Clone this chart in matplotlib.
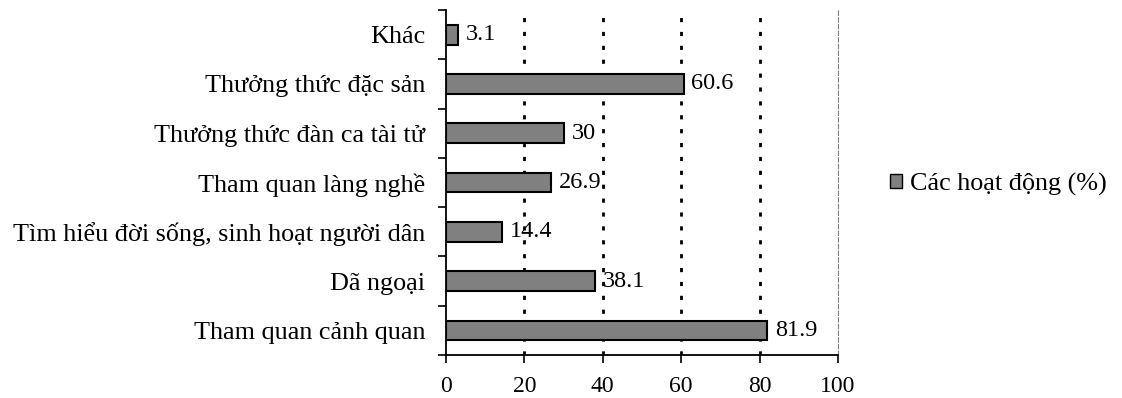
import matplotlib
matplotlib.use("Agg")
import matplotlib.pyplot as plt
from matplotlib.patches import Patch

categories = ["Tham quan cảnh quan", "Dã ngoại", "Tìm hiểu đời sống, sinh hoạt người dân",
              "Tham quan làng nghề", "Thưởng thức đàn ca tài tử", "Thưởng thức đặc sản", "Khác"]
values = [81.9, 38.1, 14.4, 26.9, 30, 60.6, 3.1]
value_labels = ["81.9", "38.1", "14.4", "26.9", "30", "60.6", "3.1"]
xticks = [0, 20, 40, 60, 80, 100]
series_name = "Các hoạt động (%)"

plt.rcParams['font.family'] = ['Liberation Serif', 'DejaVu Serif']
fig = plt.figure(figsize=(11.22, 3.98), dpi=100)
ax = fig.add_axes([446/1122, 1-355/398, (838-446)/1122, (355-10)/398])

ypos = list(range(len(categories)))
ax.barh(ypos, values, height=0.4, color='#808080', edgecolor='black', linewidth=1.5, zorder=3)
for y, v, lab in zip(ypos, values, value_labels):
    ax.text(v + 2.0, y, lab, va='center', ha='left', fontsize=17.5, zorder=4)

ax.set_xlim(0, 100)
ax.set_ylim(-0.5, len(categories) - 0.5)
ax.set_xticks(xticks)
ax.set_xticklabels([str(t) for t in xticks], fontsize=17)
ax.set_yticks([y + 0.5 for y in range(-1, len(categories))], minor=False)
ax.set_yticklabels([])
ax.set_yticks(ypos, minor=True)
ax.set_yticklabels(categories, minor=True, fontsize=18.8)
ax.tick_params(axis='y', which='minor', length=0, pad=15)
ax.tick_params(axis='y', which='major', length=6, width=1.2, direction='out')
ax.tick_params(axis='x', length=6, width=1.2, direction='out', pad=9)

for t in xticks[1:-1]:
    ax.axvline(t, color='black', linewidth=2, linestyle=(0, (1.5, 3.5)), zorder=1)

ax.spines['top'].set_visible(False)
ax.spines['right'].set_color('#808080')
ax.spines['right'].set_linestyle((0, (4, 2)))
ax.spines['right'].set_linewidth(0.8)
ax.spines['left'].set_linewidth(1.3)
ax.spines['bottom'].set_linewidth(1.3)

handle = Patch(facecolor='#808080', edgecolor='black', linewidth=1)
fig.legend([handle], [series_name], loc='center left', bbox_to_anchor=(864/1122, 1-184/398),
           frameon=False, fontsize=18.8, handlelength=0.45, handleheight=0.45, handletextpad=0.3,
           borderpad=0.5)

fig.savefig("out.png", dpi=100)
